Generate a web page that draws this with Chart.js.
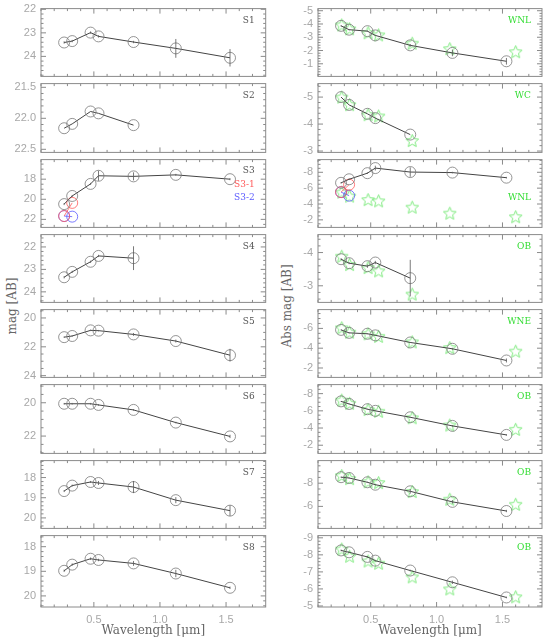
<!DOCTYPE html>
<html>
<head>
<meta charset="utf-8">
<title>Photometry panels</title>
<script src="https://cdn.jsdelivr.net/npm/chart.js"></script>
<style>
  body { margin: 0; background: #fff; }
  #fig { position: relative; width: 550px; height: 641px; overflow: hidden; }
  #fig canvas { position: absolute; }
  .ytitle { position: absolute; width: 120px; height: 14px; line-height: 14px; text-align: center;
            font: 12px "DejaVu Serif", serif; color: #666; transform: rotate(-90deg); white-space: nowrap; }
</style>
</head>
<body>
<div id="fig">
  <div class="ytitle" style="left:-48px; top:299px;">mag [AB]</div>
  <div class="ytitle" style="left:227px; top:299px;">Abs mag [AB]</div>
</div>
<script>
// wavelengths [micron] of the filters, and of the model points (stars)
const wave = [0.275, 0.336, 0.475, 0.535, 0.80, 1.12, 1.53];
const waveStar = [0.28, 0.34, 0.48, 0.56, 0.815, 1.10, 1.60];

// left column: apparent AB magnitudes and errors
const magS1 = [23.41, 23.35, 22.99, 23.15, 23.39, 23.66, 24.06];
const errS1 = [0.05, 0.05, 0.05, 0.05, 0.05, 0.40, 0.37];
const magS2 = [22.16, 22.09, 21.89, 21.92, 22.11];
const errS2 = [0, 0, 0, 0, 0];
const magS3 = [20.48, 19.67, 18.47, 17.66, 17.72, 17.57, 18.00];
const errS3 = [0.1, 0.1, 0.1, 0.5, 0.4, 0.1, 0.1];
const magS3a = [21.67, 20.36];
const magS3b = [21.67, 21.73];
const magS4 = [23.35, 23.11, 22.66, 22.40, 22.50];
const errS4 = [0.05, 0.05, 0.05, 0.05, 0.53];
const magS5 = [21.33, 21.25, 20.86, 20.88, 21.14, 21.60, 22.58];
const errS5 = [0.05, 0.05, 0.05, 0.05, 0.1, 0.1, 0.44];
const magS6 = [20.06, 20.06, 20.06, 20.13, 20.43, 21.19, 22.02];
const errS6 = [0.05, 0.05, 0.05, 0.05, 0.05, 0.05, 0.1];
const magS7 = [18.67, 18.40, 18.22, 18.27, 18.47, 19.12, 19.64];
const errS7 = [0.05, 0.05, 0.05, 0.1, 0.3, 0.15, 0.26];
const magS8 = [18.98, 18.73, 18.49, 18.54, 18.68, 19.09, 19.67];
const errS8 = [0.05, 0.05, 0.05, 0.05, 0.1, 0.15, 0.05];

// right column: absolute magnitudes, errors, and model SED (stars)
const absS1 = [-3.86, -3.57, -3.46, -3.14, -2.39, -1.82, -1.19];
const errAbsS1 = [0.05, 0.05, 0.05, 0.05, 0.1, 0.25, 0.25];
const modS1 = [-3.93, -3.64, -3.34, -3.18, -2.55, -2.14, -1.91];
const absS2 = [-5.00, -4.71, -4.38, -4.22, -3.61];
const errAbsS2 = [0, 0, 0, 0, 0];
const modS2 = [-5.00, -4.72, -4.35, -4.30, -3.39];
const absS3 = [-6.67, -7.12, -7.89, -8.53, -8.03, -7.96, -7.32];
const errAbsS3 = [0.1, 0.1, 0.1, 0.3, 0.6, 0.1, 0.1];
const absS3a = [-5.50, -6.44];
const absS3b = [-5.50, -5.05];
const modS3 = [-5.50, -5.00, -4.56, -4.40, -3.60, -2.85, -2.40];
const absS4 = [-3.80, -3.68, -3.59, -3.70, -3.23];
const errAbsS4 = [0.03, 0.03, 0.05, 0.05, 0.55];
const modS4 = [-3.89, -3.64, -3.55, -3.45, -2.75];
const absS5 = [-5.85, -5.55, -5.46, -5.30, -4.58, -3.94, -2.76];
const errAbsS5 = [0.05, 0.05, 0.05, 0.05, 0.05, 0.1, 0.2];
const modS5 = [-6.06, -5.62, -5.46, -5.20, -4.64, -4.06, -3.70];
const absS6 = [-7.10, -6.80, -6.19, -6.00, -5.25, -4.25, -3.20];
const errAbsS6 = [0.05, 0.05, 0.05, 0.05, 0.05, 0.1, 0.1];
const modS6 = [-7.25, -6.88, -6.15, -5.95, -5.20, -4.35, -3.85];
const absS7 = [-8.52, -8.45, -8.08, -7.87, -7.30, -6.39, -5.60];
const errAbsS7 = [0.05, 0.05, 0.05, 0.05, 0.2, 0.15, 0.1];
const modS7 = [-8.66, -8.40, -8.13, -8.05, -7.28, -6.62, -6.18];
const absS8 = [-8.26, -8.15, -7.88, -7.66, -7.08, -6.39, -5.50];
const errAbsS8 = [0.05, 0.05, 0.05, 0.05, 0.05, 0.1, 0.05];
const modS8 = [-8.34, -7.92, -7.64, -7.51, -6.71, -6.00, -5.54];

// y tick labels per panel
const ticksS1 = [22, 23, 24];
const ticksS2 = [21.5, 22.0, 22.5];
const ticksS3 = [18, 20, 22];
const ticksS4 = [22, 23, 24];
const ticksS5 = [20, 22, 24];
const ticksS6 = [20, 22];
const ticksS7 = [18, 19, 20];
const ticksS8 = [18, 19, 20];
const ticksR1 = [-5, -4, -3, -2, -1];
const ticksR2 = [-5, -4, -3];
const ticksR3 = [-8, -6, -4, -2];
const ticksR4 = [-4, -3];
const ticksR5 = [-6, -4, -2];
const ticksR6 = [-8, -6, -4, -2];
const ticksR7 = [-8, -6];
const ticksR8 = [-9, -8, -7, -6, -5];
const ticksX = [0.5, 1.0, 1.5];

const RED = '#ff5a5a', BLUE = '#5a5aff', GREEN = '#33dd33', STAR = '#7eea7e';

const leftPanels = [
  { mag: magS1, err: errS1, ticks: ticksS1, min: 21.97, max: 24.85, minor: 0.2, labels: [['S1', '#555', 12]] },
  { mag: magS2, err: errS2, ticks: ticksS2, min: 21.44, max: 22.55, minor: 0.1, dec: 1, labels: [['S2', '#555', 12]] },
  { mag: magS3, err: errS3, ticks: ticksS3, min: 16.05, max: 22.8, minor: 0.5,
    extra: [[magS3a, RED], [magS3b, BLUE]],
    labels: [['S3', '#555', 11], ['S3-1', RED, 25], ['S3-2', BLUE, 38]] },
  { mag: magS4, err: errS4, ticks: ticksS4, min: 21.45, max: 24.47, minor: 0.2, labels: [['S4', '#555', 12]] },
  { mag: magS5, err: errS5, ticks: ticksS5, min: 19.42, max: 24.12, minor: 0.5, labels: [['S5', '#555', 12]] },
  { mag: magS6, err: errS6, ticks: ticksS6, min: 18.91, max: 23.04, minor: 0.5, labels: [['S6', '#555', 12]] },
  { mag: magS7, err: errS7, ticks: ticksS7, min: 17.16, max: 20.52, minor: 0.2, labels: [['S7', '#555', 12]] },
  { mag: magS8, err: errS8, ticks: ticksS8, min: 17.55, max: 20.45, minor: 0.2, labels: [['S8', '#555', 12]] }
];

const rightPanels = [
  { mag: absS1, err: errAbsS1, model: modS1, ticks: ticksR1, min: -5.16, max: -0.05, minor: 0.2, labels: [['WNL', GREEN, 12]] },
  { mag: absS2, err: errAbsS2, model: modS2, ticks: ticksR2, min: -5.5, max: -2.95, minor: 0.2, labels: [['WC', GREEN, 12]] },
  { mag: absS3, err: errAbsS3, model: modS3, ticks: ticksR3, min: -9.6, max: -1.05, minor: 0.5,
    extra: [[absS3a, RED], [absS3b, BLUE]], labels: [['WNL', GREEN, 38]] },
  { mag: absS4, err: errAbsS4, model: modS4, ticks: ticksR4, min: -4.54, max: -2.5, minor: 0.2, labels: [['OB', GREEN, 12]] },
  { mag: absS5, err: errAbsS5, model: modS5, ticks: ticksR5, min: -7.9, max: -1.05, minor: 0.5, labels: [['WNE', GREEN, 12]] },
  { mag: absS6, err: errAbsS6, model: modS6, ticks: ticksR6, min: -9.05, max: -1.05, minor: 0.5, labels: [['OB', GREEN, 12]] },
  { mag: absS7, err: errAbsS7, model: modS7, ticks: ticksR7, min: -9.95, max: -4.1, minor: 0.5, labels: [['OB', GREEN, 12]] },
  { mag: absS8, err: errAbsS8, model: modS8, ticks: ticksR8, min: -9.13, max: -4.94, minor: 0.2, labels: [['OB', GREEN, 12]] }
];

function makeStar(size, color) {
  const c = document.createElement('canvas');
  c.width = size; c.height = size;
  const g = c.getContext('2d');
  const R = size / 2 - 0.8, r = R * 0.45;
  g.beginPath();
  for (let k = 0; k < 10; k++) {
    const a = -Math.PI / 2 + k * Math.PI / 5;
    const rr = k % 2 ? r : R;
    g.lineTo(size / 2 + rr * Math.cos(a), size / 2 + 0.6 + rr * Math.sin(a));
  }
  g.closePath();
  g.strokeStyle = color; g.lineWidth = 1; g.stroke();
  return c;
}
const starImg = makeStar(15, STAR);

// box with inward ticks, error bars and panel labels
const framePlugin = {
  id: 'frame',
  afterDatasetsDraw(chart, args, o) {
    const { ctx, chartArea: a, scales: { x, y } } = chart;
    ctx.save();
    // error bars on the main series
    ctx.strokeStyle = '#555'; ctx.lineWidth = 0.8;
    o.mag.forEach((v, i) => {
      const e = o.err[i];
      if (!e) return;
      const px = x.getPixelForValue(wave[i]);
      ctx.beginPath();
      ctx.moveTo(px, y.getPixelForValue(v - e));
      ctx.lineTo(px, y.getPixelForValue(v + e));
      ctx.stroke();
    });
    // frame
    ctx.strokeStyle = '#8a8a8a'; ctx.lineWidth = 1;
    ctx.strokeRect(a.left, a.top, a.right - a.left, a.bottom - a.top);
    ctx.beginPath();
    for (let k = 1; k <= 17; k++) {
      const v = k / 10;
      const px = x.getPixelForValue(v);
      const len = k % 5 === 0 ? 5 : 2.5;
      ctx.moveTo(px, a.bottom); ctx.lineTo(px, a.bottom - len);
      ctx.moveTo(px, a.top); ctx.lineTo(px, a.top + len);
    }
    const lo = Math.min(o.min, o.max), hi = Math.max(o.min, o.max);
    for (let v = Math.ceil(lo / o.minor - 1e-6) * o.minor; v <= hi + 1e-9; v += o.minor) {
      const py = y.getPixelForValue(v);
      const major = o.ticks.some(t => Math.abs(t - v) < 1e-6);
      const len = major ? 5 : 2.5;
      ctx.moveTo(a.left, py); ctx.lineTo(a.left + len, py);
      ctx.moveTo(a.right, py); ctx.lineTo(a.right - len, py);
    }
    ctx.stroke();
    // labels
    ctx.font = '9px "DejaVu Serif", serif';
    ctx.textAlign = 'right'; ctx.textBaseline = 'middle';
    o.labels.forEach(l => {
      ctx.fillStyle = l[1];
      ctx.fillText(l[0], a.right - 11, a.top + l[2]);
    });
    ctx.restore();
  }
};

const fig = document.getElementById('fig');

function makePanel(col, row, p) {
  const top = Math.round(5 + row * 75.25);
  const bottom = Math.round(5 + (row + 1) * 75.25);
  const last = row === 7;
  const axisW = col === 0 ? 41 : 43;
  const w = col === 0 ? 272 : 275;
  const h = (bottom - top) + 8 + (last ? 34 : 8);
  const canvas = document.createElement('canvas');
  canvas.width = w; canvas.height = h;
  canvas.style.left = (col === 0 ? 0 : 275) + 'px';
  canvas.style.top = (top - 8) + 'px';
  canvas.style.width = w + 'px'; canvas.style.height = h + 'px';
  fig.appendChild(canvas);

  const datasets = [];
  datasets.push({
    data: p.mag.map((v, i) => ({ x: wave[i], y: v })),
    borderColor: '#444', borderWidth: 1,
    pointStyle: 'circle', pointRadius: 5.5, pointBorderWidth: 0.8,
    pointBorderColor: '#7a7a7a', pointBackgroundColor: 'rgba(0,0,0,0)'
  });
  (p.extra || []).forEach(ex => {
    datasets.push({
      data: ex[0].map((v, i) => ({ x: wave[i], y: v })),
      borderColor: ex[1], borderWidth: 0.8,
      pointStyle: 'circle', pointRadius: 5.5, pointBorderWidth: 0.8,
      pointBorderColor: ex[1], pointBackgroundColor: 'rgba(0,0,0,0)'
    });
  });
  if (p.model) {
    datasets.push({
      data: p.model.map((v, i) => ({ x: waveStar[i], y: v })),
      showLine: false, pointStyle: starImg, pointRadius: 7
    });
  }

  new Chart(canvas, {
    type: 'line',
    data: { datasets: datasets },
    options: {
      responsive: false, maintainAspectRatio: false, animation: false,
      layout: { padding: { top: 8, bottom: last ? 0 : 8, left: 0, right: 5 } },
      plugins: { legend: { display: false }, tooltip: { enabled: false }, frame: Object.assign({}, p) },
      scales: {
        x: {
          type: 'linear', min: 0.1, max: 1.8, display: last,
          afterBuildTicks: s => { s.ticks = ticksX.map(v => ({ value: v })); },
          afterFit: s => { s.height = last ? 34 : 0; },
          grid: { display: false, drawTicks: false }, border: { display: false },
          ticks: { padding: 6, color: '#a8a8a8', font: { family: '"Liberation Sans", sans-serif', size: 11 },
                   callback: v => v.toFixed(1), maxRotation: 0 },
          title: { display: true, text: 'Wavelength [μm]', color: '#666',
                   font: { family: '"DejaVu Serif", serif', size: 12 }, padding: { top: 0, bottom: 3 } }
        },
        y: {
          type: 'linear', reverse: true, min: p.min, max: p.max,
          afterBuildTicks: s => { s.ticks = p.ticks.map(v => ({ value: v })); },
          afterFit: s => { s.width = axisW; },
          grid: { display: false, drawTicks: false }, border: { display: false },
          ticks: { padding: 5, color: '#a8a8a8', font: { family: '"Liberation Sans", sans-serif', size: 11 },
                   callback: v => p.dec ? v.toFixed(p.dec) : String(v) }
        }
      }
    },
    plugins: [framePlugin]
  });
}

leftPanels.forEach((p, i) => makePanel(0, i, p));
rightPanels.forEach((p, i) => makePanel(1, i, p));
</script>
</body>
</html>
